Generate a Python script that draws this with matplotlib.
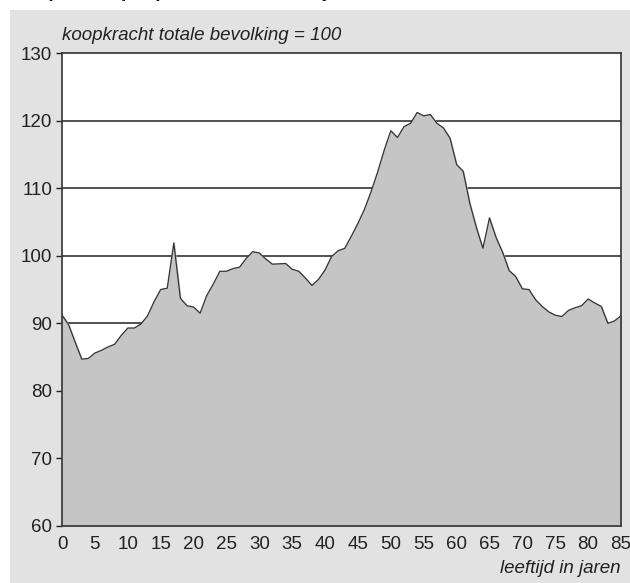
import numpy as np
import matplotlib.pyplot as plt
from matplotlib.patches import Rectangle

plt.rcParams['font.family'] = ['Liberation Sans', 'DejaVu Sans']

# koopkracht per leeftijd (totale bevolking = 100)
leeftijd = list(range(86))
koopkracht = [
    91.2, 89.8, 87.2, 84.7, 84.8, 85.6, 86.0, 86.5, 86.9, 88.2,
    89.3, 89.3, 89.9, 91.1, 93.2, 95.0, 95.2, 101.9, 93.7, 92.6,
    92.4, 91.5, 94.1, 95.8, 97.7, 97.7, 98.1, 98.3, 99.6, 100.6,
    100.4, 99.5, 98.75, 98.8, 98.85, 98.0, 97.7, 96.7, 95.6, 96.5,
    97.9, 99.9, 100.75, 101.1, 102.9, 104.8, 106.9, 109.5, 112.4, 115.65,
    118.5, 117.5, 119.1, 119.6, 121.2, 120.7, 120.9, 119.6, 118.9, 117.4,
    113.5, 112.5, 107.8, 104.2, 101.1, 105.6, 102.7, 100.5, 97.8, 96.9,
    95.1, 95.0, 93.5, 92.5, 91.7, 91.2, 91.0, 91.9, 92.3, 92.6,
    93.6, 93.0, 92.5, 90.0, 90.35, 91.1,
]
y_ticks = [60, 70, 80, 90, 100, 110, 120, 130]
x_ticks = list(range(0, 86, 5))

fig = plt.figure(figsize=(6.3, 5.83), dpi=100)
fig.patch.set_facecolor('white')

# grijze achtergrond
bg = Rectangle((10 / 630, 0), 620 / 630, 573 / 583, transform=fig.transFigure,
               facecolor='#e2e2e2', edgecolor='none', zorder=-5)
fig.add_artist(bg)

ax = fig.add_axes([62 / 630, 1 - 526 / 583, 559 / 630, 473 / 583])
ax.set_zorder(2)
ax.set_facecolor('white')

for g in [90, 100, 110, 120]:
    ax.axhline(g, color='#333333', lw=1.2, zorder=1)

ax.fill_between(leeftijd, koopkracht, 60, color='#c5c5c5', zorder=2)
ax.plot(leeftijd, koopkracht, color='#333333', lw=0.9, zorder=3)

ax.set_xlim(0, 85)
ax.set_ylim(60, 130)
ax.set_yticks(y_ticks)
ax.set_xticks(x_ticks)
ax.tick_params(axis='y', length=4, width=1, color='#222222', labelsize=13.5,
               labelcolor='#222222', pad=3)
ax.tick_params(axis='x', length=0, labelsize=13.5, labelcolor='#222222', pad=7)
for s in ax.spines.values():
    s.set_color('#333333')
    s.set_linewidth(1.2)

fig.text(62 / 630, 1 - 40 / 583, 'koopkracht totale bevolking = 100',
         fontsize=13.5, style='italic', color='#222222', va='baseline')
fig.text(620 / 630, 1 - 573 / 583, 'leeftijd in jaren', fontsize=13.5,
         style='italic', color='#222222', ha='right', va='baseline')
# titel valt in het origineel grotendeels buiten beeld
fig.text(12 / 630, 1 + 3 / 583, 'Koopkracht per persoon naar leeftijd, totaal 2000',
         fontsize=13.5, weight='bold', color='#111111', va='baseline')

plt.savefig('out.png', dpi=100)
